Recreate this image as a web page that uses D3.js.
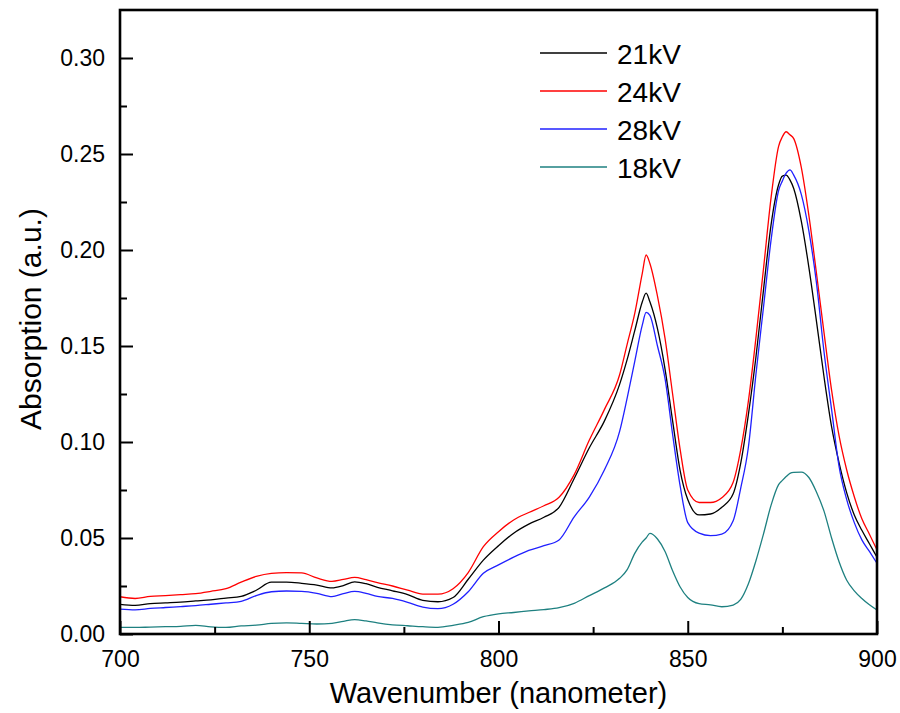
<!DOCTYPE html>
<html>
<head>
<meta charset="utf-8">
<script src="https://cdn.jsdelivr.net/npm/d3@7"></script>
<style>
  html, body { margin: 0; padding: 0; background: #fff; }
  svg { display: block; font-family: "Liberation Sans", Arial, sans-serif; }
</style>
</head>
<body>
<svg id="chart" width="900" height="713"></svg>
<script>
// Wavelength grid (nm) shared by all spectra
const wavelength = [700,704,708,712,716,720,724,728,732,736,740,744,748,752,756,759,762,765,768,772,776,780,784,788,792,796,800,804,808,812,816,820,824,828,832,834,836,838,839,840,842,844,846,848,850,853,856,859,862,864,866,868,870,872,874,875,876,877,878,880,882,884,886,888,890,892,894,896,898,900];

// Absorption (a.u.) for each applied voltage
const abs21kV = [0.0154,0.0149,0.0158,0.0162,0.0166,0.0172,0.0178,0.0187,0.0196,0.0228,0.0270,0.0270,0.0264,0.0255,0.0240,0.0252,0.0272,0.0262,0.0243,0.0225,0.0205,0.0175,0.0168,0.0190,0.0285,0.0385,0.0460,0.0525,0.0572,0.0608,0.0660,0.0810,0.0970,0.1110,0.1300,0.1430,0.1580,0.1730,0.1775,0.1730,0.1590,0.1380,0.1110,0.0850,0.0700,0.0620,0.0625,0.0660,0.0730,0.0890,0.1140,0.1440,0.1790,0.2130,0.2340,0.2385,0.2390,0.2365,0.2320,0.2150,0.1910,0.1630,0.1340,0.1080,0.0890,0.0735,0.0620,0.0540,0.0470,0.0400];
const abs24kV = [0.0194,0.0185,0.0196,0.0200,0.0205,0.0210,0.0222,0.0236,0.0270,0.0300,0.0316,0.0320,0.0318,0.0292,0.0274,0.0284,0.0295,0.0283,0.0268,0.0250,0.0228,0.0208,0.0208,0.0236,0.0320,0.0455,0.0533,0.0594,0.0633,0.0668,0.0712,0.0830,0.1010,0.1170,0.1350,0.1510,0.1670,0.1880,0.1974,0.1930,0.1760,0.1540,0.1250,0.0960,0.0750,0.0685,0.0685,0.0710,0.0790,0.0960,0.1210,0.1540,0.1900,0.2270,0.2540,0.2590,0.2616,0.2600,0.2580,0.2430,0.2180,0.1880,0.1570,0.1270,0.1030,0.0854,0.0715,0.0600,0.0520,0.0438];
const abs28kV = [0.0130,0.0126,0.0133,0.0138,0.0143,0.0148,0.0155,0.0162,0.0170,0.0200,0.0220,0.0224,0.0222,0.0212,0.0195,0.0210,0.0222,0.0212,0.0196,0.0185,0.0165,0.0140,0.0132,0.0155,0.0220,0.0316,0.0360,0.0400,0.0435,0.0460,0.0490,0.0610,0.0713,0.0855,0.1055,0.1230,0.1420,0.1610,0.1675,0.1660,0.1500,0.1330,0.1040,0.0770,0.0580,0.0525,0.0512,0.0520,0.0590,0.0760,0.0970,0.1350,0.1700,0.2050,0.2310,0.2360,0.2400,0.2417,0.2390,0.2290,0.2100,0.1830,0.1470,0.1170,0.0870,0.0700,0.0580,0.0490,0.0430,0.0368];
const abs18kV = [0.0035,0.0034,0.0036,0.0038,0.0040,0.0045,0.0037,0.0034,0.0042,0.0046,0.0055,0.0058,0.0055,0.0052,0.0055,0.0066,0.0075,0.0068,0.0058,0.0048,0.0043,0.0038,0.0035,0.0045,0.0060,0.0090,0.0105,0.0112,0.0120,0.0127,0.0137,0.0160,0.0200,0.0240,0.0290,0.0335,0.0420,0.0480,0.0500,0.0524,0.0495,0.0430,0.0330,0.0245,0.0190,0.0158,0.0152,0.0142,0.0151,0.0180,0.0260,0.0380,0.0520,0.0670,0.0778,0.0800,0.0820,0.0837,0.0842,0.0843,0.0815,0.0740,0.0640,0.0500,0.0375,0.0280,0.0225,0.0185,0.0152,0.0125];

const seriesNames = ["21kV", "24kV", "28kV", "18kV"];
const seriesColors = ["#000000", "#ff0000", "#2020ff", "#1e8080"];
const seriesValues = [abs21kV, abs24kV, abs28kV, abs18kV];

const xMajorTicks = [700, 750, 800, 850, 900];
const xMinorTicks = [725, 775, 825, 875];
const yMajorTicks = [0.00, 0.05, 0.10, 0.15, 0.20, 0.25, 0.30];
const yMinorTicks = [0.025, 0.075, 0.125, 0.175, 0.225, 0.275];

const svg = d3.select("#chart");
const plot = { left: 120, right: 877, top: 10, bottom: 634 };

const x = d3.scaleLinear().domain([700, 900]).range([plot.left, plot.right]);
const y = d3.scaleLinear().domain([0, 0.325]).range([plot.bottom, plot.top]);

// Spectra, clipped to the frame
svg.append("clipPath").attr("id", "plot-clip")
  .append("rect")
  .attr("x", plot.left).attr("y", plot.top)
  .attr("width", plot.right - plot.left).attr("height", plot.bottom - plot.top);

const line = d3.line()
  .x(d => x(d[0]))
  .y(d => y(d[1]))
  .curve(d3.curveMonotoneX);

const g = svg.append("g").attr("clip-path", "url(#plot-clip)");
seriesValues.forEach((vals, i) => {
  g.append("path")
    .datum(wavelength.map((w, j) => [w, vals[j]]))
    .attr("fill", "none")
    .attr("stroke", seriesColors[i])
    .attr("stroke-width", 1.3)
    .attr("stroke-linejoin", "round")
    .attr("d", line);
});

// Axes with inward ticks
const tickFont = "23px";
svg.append("g").attr("transform", `translate(0,${plot.bottom})`)
  .call(d3.axisBottom(x).tickValues(xMajorTicks).tickSize(-13).tickPadding(17).tickFormat(d3.format("d")));
svg.append("g").attr("transform", `translate(0,${plot.bottom})`)
  .call(d3.axisBottom(x).tickValues(xMinorTicks).tickSize(-7).tickFormat(""))
  .call(s => s.select(".domain").remove());

svg.append("g").attr("transform", `translate(${plot.left},0)`)
  .call(d3.axisLeft(y).tickValues(yMajorTicks).tickSize(-13).tickPadding(15).tickFormat(d3.format(".2f")));
svg.append("g").attr("transform", `translate(${plot.left},0)`)
  .call(d3.axisLeft(y).tickValues(yMinorTicks).tickSize(-7).tickFormat(""))
  .call(s => s.select(".domain").remove());

svg.selectAll(".tick line").attr("stroke", "#000").attr("stroke-width", 2);
svg.selectAll(".tick text")
  .attr("fill", "#000")
  .style("font-size", tickFont)
  .style("font-family", "'Liberation Sans', Arial, sans-serif");
svg.selectAll(".domain").remove();

// Frame
svg.append("rect")
  .attr("x", plot.left).attr("y", plot.top)
  .attr("width", plot.right - plot.left).attr("height", plot.bottom - plot.top)
  .attr("fill", "none").attr("stroke", "#000").attr("stroke-width", 2.6);

// Axis titles
svg.append("text")
  .attr("x", (plot.left + plot.right) / 2).attr("y", 703)
  .attr("text-anchor", "middle")
  .style("font-size", "29px")
  .text("Wavenumber (nanometer)");

svg.append("text")
  .attr("transform", `translate(41,${(plot.top + plot.bottom) / 2 - 3}) rotate(-90)`)
  .attr("text-anchor", "middle")
  .style("font-size", "30px")
  .text("Absorption (a.u.)");

// Legend
const legend = svg.append("g");
seriesNames.forEach((name, i) => {
  const ly = 53 + i * 38;
  legend.append("line")
    .attr("x1", 540).attr("x2", 607).attr("y1", ly).attr("y2", ly)
    .attr("stroke", seriesColors[i]).attr("stroke-width", 1.5);
  legend.append("text")
    .attr("x", 617).attr("y", ly + 11)
    .style("font-size", "28px")
    .text(name);
});
</script>
</body>
</html>
